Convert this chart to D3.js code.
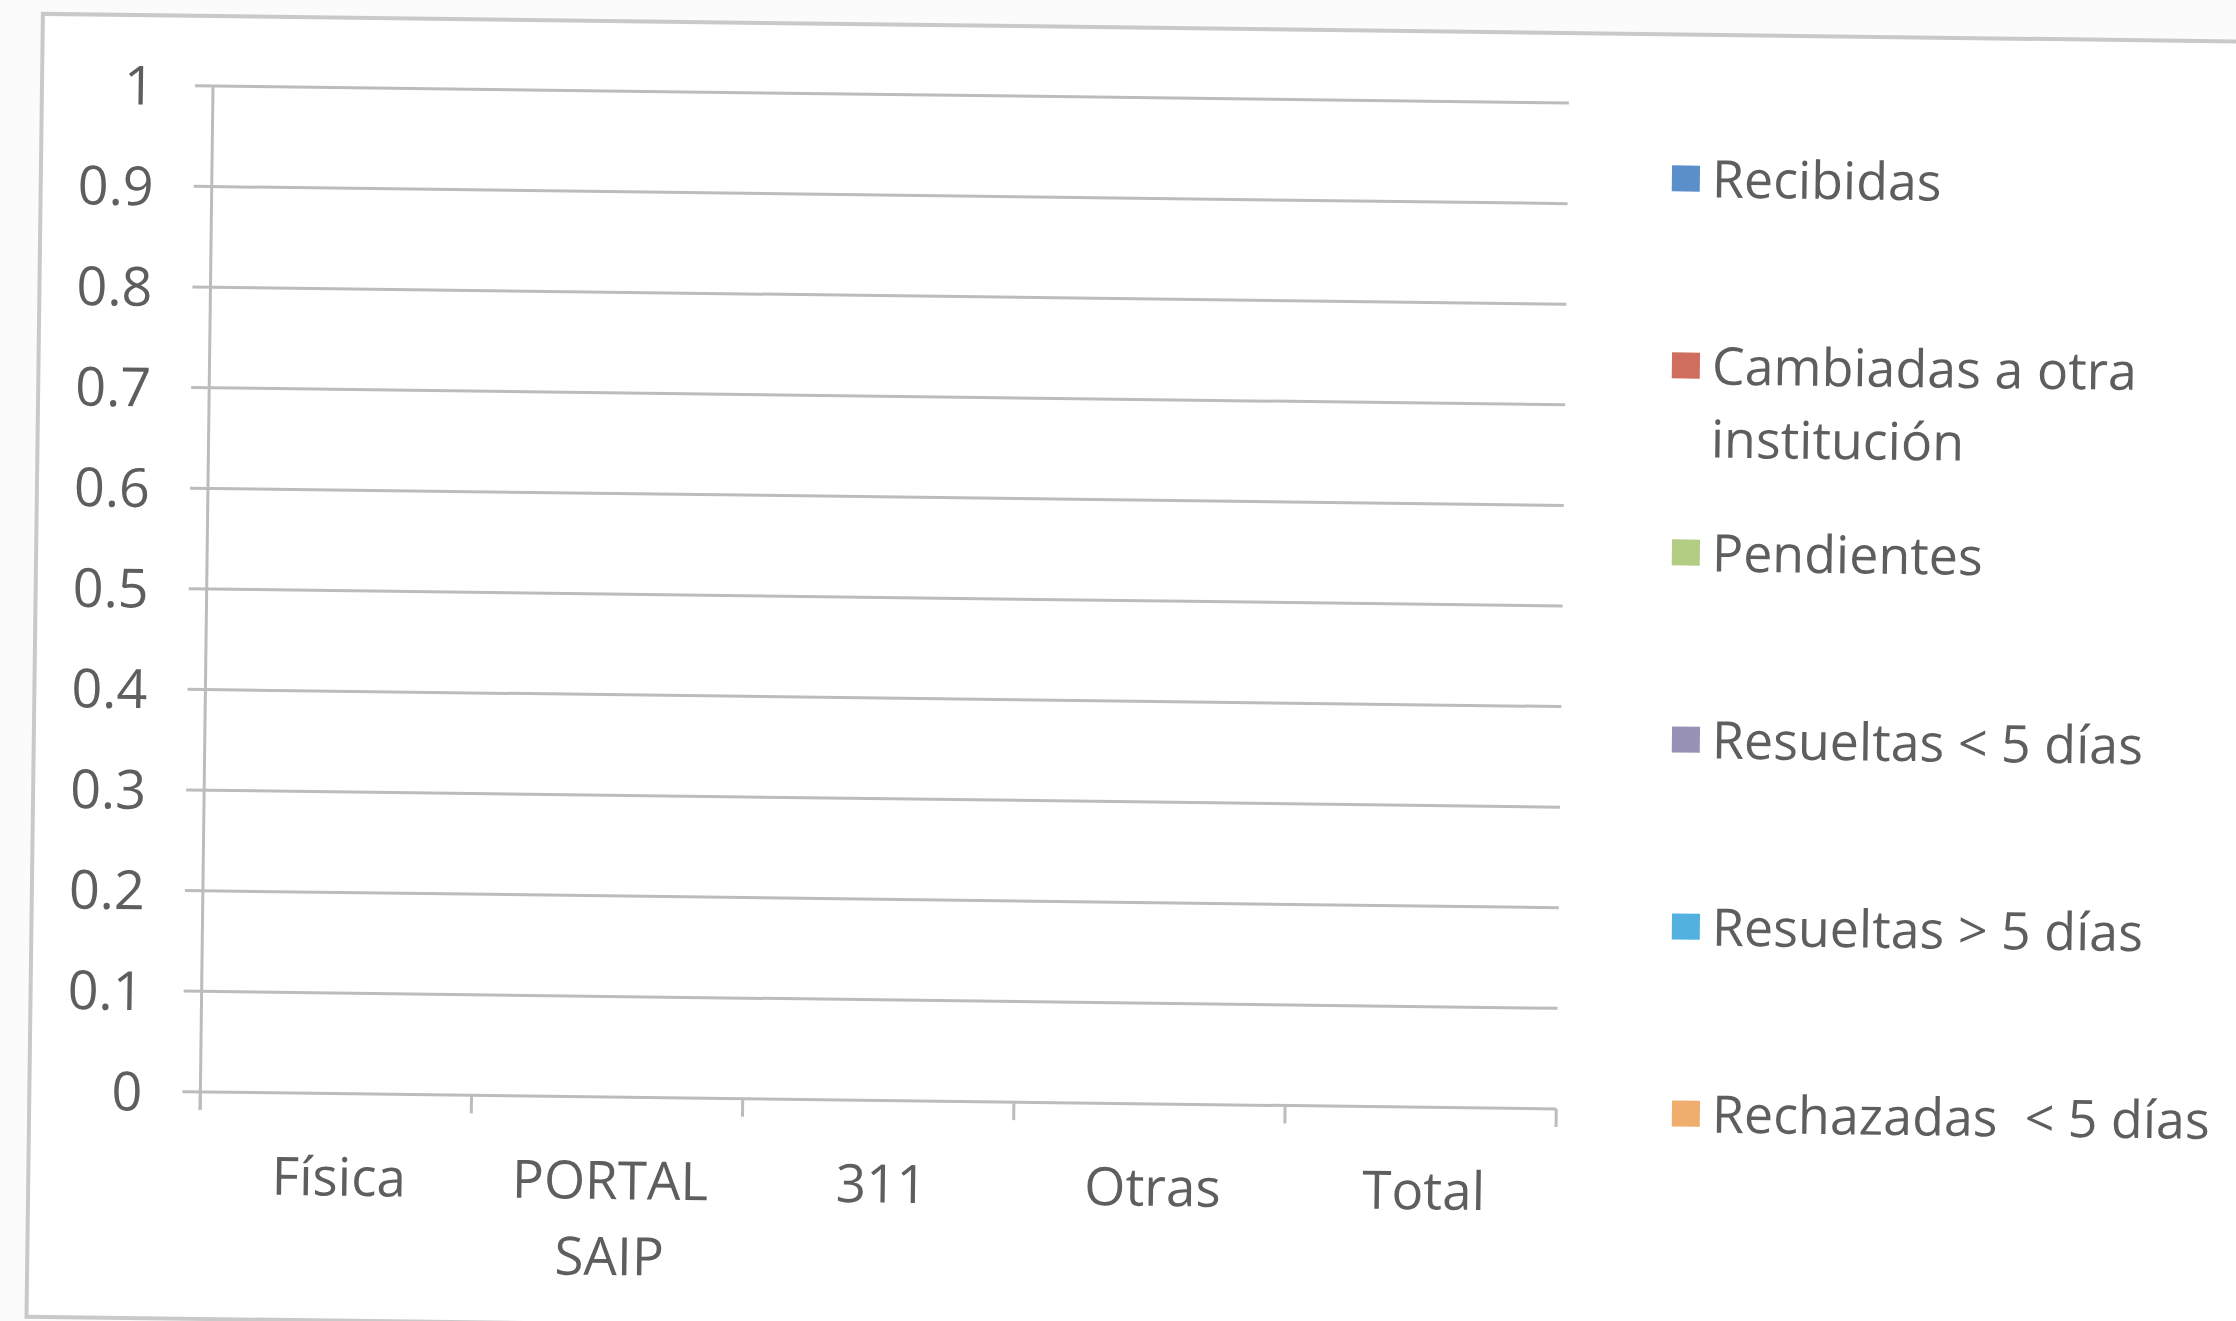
<!DOCTYPE html>
<html>
<head>
<meta charset="utf-8">
<script src="https://cdn.jsdelivr.net/npm/d3@7"></script>
<style>
  html, body { margin: 0; padding: 0; background: #fbfbfb; }
  svg { display: block; }
  text { font-family: "Open Sans", sans-serif; fill: #5e5e5e; white-space: pre; }
</style>
</head>
<body>
<script>
// categories and series (the chart is empty: every value is 0)
var categories = ["Física", "PORTAL SAIP", "311", "Otras", "Total"];
var series = ["Recibidas", "Cambiadas a otra institución", "Pendientes",
              "Resueltas < 5 días", "Resueltas > 5 días", "Rechazadas  < 5 días"];
var recibidas  = [0, 0, 0, 0, 0];
var cambiadas  = [0, 0, 0, 0, 0];
var pendientes = [0, 0, 0, 0, 0];
var resueltasMenos = [0, 0, 0, 0, 0];
var resueltasMas   = [0, 0, 0, 0, 0];
var rechazadas = [0, 0, 0, 0, 0];
var yTicks = [0, 0.1, 0.2, 0.3, 0.4, 0.5, 0.6, 0.7, 0.8, 0.9, 1];
var colors = ["#5b8fc9", "#cf6d5e", "#b2cc82", "#9893b6", "#52b1df", "#efae6e"];

var values = [recibidas, cambiadas, pendientes, resueltasMenos, resueltasMas, rechazadas];
var legendLines = [["Recibidas"], ["Cambiadas a otra", "institución"], ["Pendientes"],
                   ["Resueltas < 5 días"], ["Resueltas > 5 días"], ["Rechazadas  < 5 días"]];

var W = 2236, H = 1321;
var mLeft = 213, mTop = 86, plotW = 1356, plotH = 1006;
var tilt = 0.72;

var svg = d3.select("body").append("svg")
    .attr("width", W)
    .attr("height", H);

// the photo is slightly tilted
var g = svg.append("g")
    .attr("transform", "rotate(" + tilt + "," + mLeft + "," + mTop + ")");

// outer chart frame
g.append("rect")
    .attr("x", 42).attr("y", 16)
    .attr("width", 2400).attr("height", 1303)
    .attr("fill", "#ffffff")
    .attr("stroke", "#c9c9c9")
    .attr("stroke-width", 4);

var plot = g.append("g").attr("transform", "translate(" + mLeft + "," + mTop + ")");

var x = d3.scaleBand().domain(categories).range([0, plotW]);
var xInner = d3.scaleBand().domain(series).range([0, x.bandwidth()]).paddingOuter(0.6);
var y = d3.scaleLinear().domain([0, 1]).range([plotH, 0]);

// gridlines + y ticks
plot.selectAll(".grid")
    .data(yTicks)
    .enter()
    .append("line")
    .attr("x1", -18)
    .attr("x2", plotW)
    .attr("y1", function (d) { return y(d); })
    .attr("y2", function (d) { return y(d); })
    .attr("stroke", "#bcbcbc")
    .attr("stroke-width", 3);

plot.selectAll(".ylab")
    .data(yTicks)
    .enter()
    .append("text")
    .attr("x", -58)
    .attr("y", function (d) { return y(d); })
    .attr("dy", "0.36em")
    .attr("text-anchor", "end")
    .style("font-size", "54px")
    .text(function (d) { return d3.format("~g")(d); });

// y axis line
plot.append("line")
    .attr("x1", 0).attr("x2", 0)
    .attr("y1", y(1)).attr("y2", y(0) + 18)
    .attr("stroke", "#bcbcbc")
    .attr("stroke-width", 3);

// x axis ticks at band edges
var edges = categories.map(function (c) { return x(c); }).concat([plotW]);
plot.selectAll(".xtick")
    .data(edges)
    .enter()
    .append("line")
    .attr("x1", function (d) { return d; })
    .attr("x2", function (d) { return d; })
    .attr("y1", y(0))
    .attr("y2", y(0) + 18)
    .attr("stroke", "#bcbcbc")
    .attr("stroke-width", 3);

// bars (all zero height)
values.forEach(function (vals, si) {
    plot.selectAll(".bar" + si)
        .data(vals)
        .enter()
        .append("rect")
        .attr("fill", colors[si])
        .attr("x", function (d, i) { return x(categories[i]) + xInner(series[si]); })
        .attr("width", xInner.bandwidth())
        .attr("y", function (d) { return y(d); })
        .attr("height", function (d) { return y(0) - y(d); });
});

// x labels
var xl = plot.selectAll(".xlab")
    .data(categories)
    .enter()
    .append("text")
    .attr("text-anchor", "middle")
    .attr("transform", function (d) {
        return "translate(" + (x(d) + x.bandwidth() / 2 + 4) + "," + (y(0) + 102) + ")";
    })
    .style("font-size", "53px");
xl.selectAll("tspan")
    .data(function (d) { return d.split(" "); })
    .enter()
    .append("tspan")
    .attr("x", 0)
    .attr("dy", function (d, i) { return i === 0 ? 0 : 76; })
    .text(function (d) { return d; });

// legend (kept upright in the photo, so undo the tilt drift on x)
var ly = d3.scalePoint().domain(series).range([160, 1095]);
var leg = g.selectAll(".legend")
    .data(series)
    .enter()
    .append("g")
    .attr("transform", function (d) {
        var yy = ly(d);
        var xx = 1672 + (yy - mTop) * Math.tan(tilt * Math.PI / 180);
        return "translate(" + xx + "," + yy + ")";
    });

leg.append("rect")
    .attr("x", 0).attr("y", -13)
    .attr("width", 28).attr("height", 26)
    .attr("fill", function (d, i) { return colors[i]; });

var lt = leg.append("text")
    .attr("x", 40)
    .style("font-size", "52px");
lt.selectAll("tspan")
    .data(function (d, i) { return legendLines[i]; })
    .enter()
    .append("tspan")
    .attr("x", 40)
    .attr("dy", function (d, i) { return i === 0 ? "0.36em" : 73; })
    .text(function (d) { return d; });
</script>
</body>
</html>
